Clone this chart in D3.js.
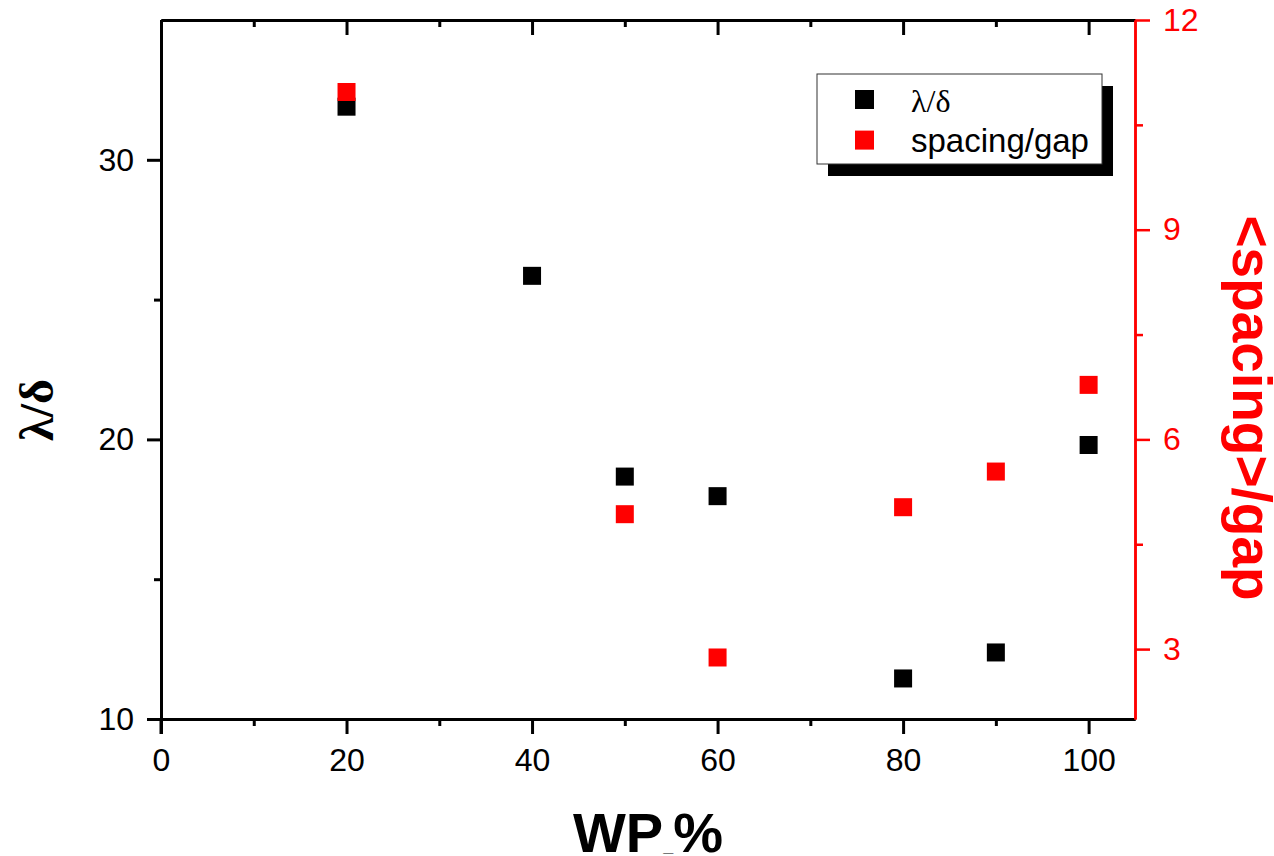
<!DOCTYPE html>
<html>
<head>
<meta charset="utf-8">
<script src="https://cdn.jsdelivr.net/npm/d3@7"></script>
<style>
  body { margin: 0; background: #fff; }
  text { font-family: Arial, "Liberation Sans", sans-serif; }
</style>
</head>
<body>
<div id="chart"></div>
<script>
// data
const wpBlack = [20, 40, 50, 60, 80, 90, 100];
const lambdaDelta = [31.9, 25.85, 18.67, 17.97, 11.45, 12.38, 19.8];
const wpRed = [20, 50, 60, 80, 90, 100];
const spacingGap = [10.97, 4.93, 2.88, 5.03, 5.54, 6.78];

const xTicks = [0, 20, 40, 60, 80, 100];
const xMinor = [10, 30, 50, 70, 90];
const yLeftTicks = [10, 20, 30];
const yLeftMinor = [15, 25];
const yRightTicks = [3, 6, 9, 12];
const yRightMinor = [4.5, 7.5, 10.5];

const width = 1274, height = 856;
const margin = { top: 20, right: 139, bottom: 137, left: 161 };
const innerWidth = width - margin.left - margin.right;
const innerHeight = height - margin.top - margin.bottom;

const svg = d3.select('#chart').append('svg')
    .attr('width', width)
    .attr('height', height);

const g = svg.append('g')
    .attr('transform', `translate(${margin.left},${margin.top})`);

const x = d3.scaleLinear().domain([0, 105]).range([0, innerWidth]);
const yL = d3.scaleLinear().domain([10, 35]).range([innerHeight, 0]);
const yR = d3.scaleLinear().domain([2, 12]).range([innerHeight, 0]);

function style(sel, color, w, noLabels) {
    sel.select('.domain').attr('stroke', color).attr('stroke-width', w);
    sel.selectAll('.tick line').attr('stroke', color).attr('stroke-width', w);
    if (noLabels) {
        sel.selectAll('.tick text').remove();
        return;
    }
    sel.selectAll('.tick text').attr('fill', color).style('font-size', '32px')
        .style('font-family', 'Arial, "Liberation Sans", sans-serif');
}

// bottom axis
const xAxisG = g.append('g').attr('transform', `translate(0,${innerHeight})`)
    .call(d3.axisBottom(x).tickValues(xTicks).tickSize(15).tickSizeOuter(0).tickPadding(14));
style(xAxisG, '#000', 3);
const xMinorG = g.append('g').attr('transform', `translate(0,${innerHeight})`)
    .call(d3.axisBottom(x).tickValues(xMinor).tickSize(7).tickSizeOuter(0));
style(xMinorG, '#000', 3, true);

// top axis, ticks inward
const topG = g.append('g')
    .call(d3.axisTop(x).tickValues(xTicks).tickSize(-15).tickSizeOuter(0));
style(topG, '#000', 3, true);
const topMinorG = g.append('g')
    .call(d3.axisTop(x).tickValues(xMinor).tickSize(-7).tickSizeOuter(0));
style(topMinorG, '#000', 3, true);

// left axis
const yLG = g.append('g')
    .call(d3.axisLeft(yL).tickValues(yLeftTicks).tickSize(14).tickSizeOuter(0).tickPadding(13));
style(yLG, '#000', 3);
const yLMinorG = g.append('g')
    .call(d3.axisLeft(yL).tickValues(yLeftMinor).tickSize(7).tickSizeOuter(0));
style(yLMinorG, '#000', 3, true);
// extend left axis line down to the bottom tick length
g.append('line')
    .attr('x1', 0).attr('x2', 0)
    .attr('y1', innerHeight).attr('y2', innerHeight + 15)
    .attr('stroke', '#000').attr('stroke-width', 3);

// right axis (red)
const yRG = g.append('g').attr('transform', `translate(${innerWidth},0)`)
    .call(d3.axisRight(yR).tickValues(yRightTicks).tickSize(15).tickSizeOuter(0).tickPadding(13));
style(yRG, '#ff0000', 2.5);
const yRMinorG = g.append('g').attr('transform', `translate(${innerWidth},0)`)
    .call(d3.axisRight(yR).tickValues(yRightMinor).tickSize(8).tickSizeOuter(0));
style(yRMinorG, '#ff0000', 2.5, true);

// markers
const size = 18;
const blackData = wpBlack.map((d, i) => ({ x: d, y: lambdaDelta[i] }));
const redData = wpRed.map((d, i) => ({ x: d, y: spacingGap[i] }));

g.selectAll('.pt-black')
    .data(blackData)
    .enter()
    .append('rect')
    .attr('class', 'pt-black')
    .attr('x', d => x(d.x) - size / 2)
    .attr('y', d => yL(d.y) - size / 2)
    .attr('width', size).attr('height', size)
    .attr('fill', '#000');

g.selectAll('.pt-red')
    .data(redData)
    .enter()
    .append('rect')
    .attr('class', 'pt-red')
    .attr('x', d => x(d.x) - size / 2)
    .attr('y', d => yR(d.y) - size / 2)
    .attr('width', size).attr('height', size)
    .attr('fill', '#ff0000');

// axis titles
const xTitle = svg.append('text')
    .attr('x', margin.left + innerWidth / 2)
    .attr('y', 852)
    .attr('text-anchor', 'middle')
    .style('font-size', '56px')
    .style('font-weight', 'bold')
    .attr('fill', '#000');
xTitle.append('tspan').text('WP');
xTitle.append('tspan').style('font-size', '18px').text('_');
xTitle.append('tspan').text('%');

svg.append('text')
    .attr('transform', 'translate(53,410) rotate(-90)')
    .attr('text-anchor', 'middle')
    .style('font-family', '"Liberation Serif", "Times New Roman", serif')
    .style('font-size', '48px')
    .style('font-weight', 'bold')
    .attr('fill', '#000')
    .text('λ/δ');

svg.append('text')
    .attr('transform', 'translate(1233,408) rotate(90)')
    .attr('text-anchor', 'middle')
    .style('font-size', '55px')
    .style('font-weight', 'bold')
    .attr('fill', '#ff0000')
    .text('<spacing>/gap');

// legend
const legend = svg.append('g');
legend.append('rect')
    .attr('x', 828).attr('y', 86).attr('width', 285).attr('height', 90)
    .attr('fill', '#000');
legend.append('rect')
    .attr('x', 817).attr('y', 74).attr('width', 285).attr('height', 90)
    .attr('fill', '#fff').attr('stroke', '#333').attr('stroke-width', 1);

const legendItems = [
    { label: 'λ/δ', color: '#000', serif: true },
    { label: 'spacing/gap', color: '#ff0000', serif: false }
];
legend.selectAll('.leg-sym')
    .data(legendItems)
    .enter()
    .append('rect')
    .attr('x', 855)
    .attr('y', (d, i) => 90 + i * 40.6)
    .attr('width', 19).attr('height', 19)
    .attr('fill', d => d.color);
legend.selectAll('.leg-text')
    .data(legendItems)
    .enter()
    .append('text')
    .attr('x', 911)
    .attr('y', (d, i) => 112 + i * 39.7)
    .style('font-family', d => d.serif ? '"Liberation Serif", "Times New Roman", serif' : 'Arial, "Liberation Sans", sans-serif')
    .style('font-size', d => d.serif ? '32px' : '33px')
    .attr('fill', '#000')
    .text(d => d.label);
</script>
</body>
</html>
